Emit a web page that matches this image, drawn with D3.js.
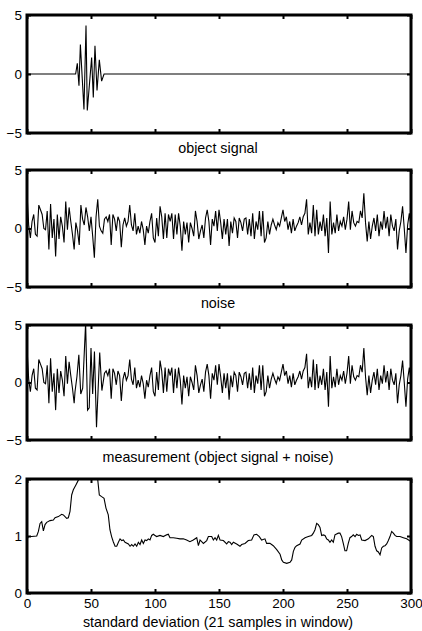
<!DOCTYPE html>
<html>
<head>
<meta charset="utf-8">
<script src="https://cdn.jsdelivr.net/npm/d3@7"></script>
<style>
  body { margin: 0; background: #fff; }
  svg { display: block; }
  text { font-family: "Liberation Sans", Arial, Helvetica, sans-serif; }
</style>
</head>
<body>
<svg id="chart" width="422" height="631"></svg>
<script>
// object signal: breakpoints of the short wavelet (sample index, value)
var signalX = [0, 38, 39.3, 40.6, 41.7, 44.5, 46.1, 47.1, 50.5, 51.8, 53.1, 54.7, 56.5, 58.3, 60.2, 300];
var signalY = [0, 0, 0.9, -1.0, 2.5, -3.0, 4.1, -3.1, 1.4, -2.0, 2.4, -1.4, 1.2, -0.6, 0, 0];

// noise, read left to right, evenly spread over samples 0..300
var noise = [3.0, 0.3, -0.8, 0.6, 1.2, -0.5, -0.65, 2.0, 1.6, 1.2, 0, -0.1, 1.5, -1.8, 2.1, -0.8, 0.8, -2.4, 1.2, -0.9,
  1.0, 0.2, -1.2, 2.3, -0.1, 1.8, 0.6, -0.5, -1.8, 0.5, -0.2, -1.4, 2.0, 0.8, 0.3, 1.8, 1.0, -0.2, 1.0, -0.65,
  -2.5, 1.0, 2.5, 0.2, -0.2, -0.4, 0.8, 1.0, 0.6, 1.2, -1.4, 1.2, 0.8, -0.2, 1.0, 0.6, -1.6, 0.3, 0.9, 0.2,
  0.6, 2.0, 0.3, -0.2, 1.3, -0.5, 0.2, -0.4, 0.6, -0.1, -1.4, 0.2, -0.4, 0.6, 1.3, -0.8, -1.2, 0.9, -0.65, 1.9,
  1.0, -0.9, 1.3, -0.8, 1.2, 0.6, 1.3, -0.9, 1.2, -0.5, 1.3, 0.2, -1.9, 0.6, -0.5, 0.5, -1.2, 0.5, 0, -0.65,
  1.5, 0.6, -0.9, -0.2, 0.3, -0.8, 0.9, 1.6, 0.6, -1.4, 0.8, 0.2, 1.5, -0.2, 1.6, 0.5, -0.9, 0.8, -0.5, 0.8,
  -1.5, 0.6, -0.4, 0.9, 0.6, -0.8, 0.9, 0.5, -0.2, 0.8, 0.9, -0.5, 0.8, -0.65, 1.3, -0.9, 0.6, -0.1, 1.5, -0.65,
  1.5, -1.2, -0.8, 0.6, -0.5, 0.3, 0.8, 0.3, -0.1, 0.5, 0.2, 0.9, 1.6, 0.6, 1.0, -0.1, 0.6, -0.4, 0.8, -0.2,
  0.2, 0.5, 1.0, 0.3, 1.0, 1.3, 2.5, -0.5, 0.5, -0.4, 2.0, -0.65, 1.6, -0.5, 0.6, -0.2, 1.2, -0.65, 0.9, -2.1,
  2.3, -0.5, 0.5, -0.4, 1.2, -0.2, 0.6, 0.2, 1.0, -0.1, 0.8, 2.3, -0.1, 1.5, 0.5, 0.2, 0.6, 0.5, 1.5, 0.9,
  3.0, 0.5, -1.1, 0.6, -0.9, 0.2, 0.9, -0.2, 1.2, -0.65, 0.6, -0.1, 1.5, 0, 1.0, -0.65, 1.2, 0.2, -0.2, 0.8,
  -1.8, -0.2, 0.6, 1.9, 0, -2.1, 0.3, 1.3, 0.2];

// measurement differs from the noise only where the wavelet sits
var burstX = [37.5, 39, 40.5, 42, 43.5, 45.8, 47.3, 48.6, 50, 51.3, 52.7, 54.3, 56.8, 58.5, 60];
var burstY = [-0.8, 0.5, 2.4, -1.0, -0.5, 5.2, -2.4, -2.2, 3.0, -1.0, 2.7, -3.9, 2.6, -0.7, 0.4];

// moving standard deviation (sample index, value)
var stdX = [0, 1, 3.6, 7.6, 8.9, 10.2, 11.5, 12.8, 14.1, 15.4, 18, 20.6, 21.9, 24.5, 27.1, 28.4, 31, 32.3, 33.6, 34.9,
  36.2, 38.3, 40.1, 41.4, 42.7, 45.3, 47.9, 50.5, 53.1, 55.2, 56.5, 58.3, 60.2, 61.7, 63.5, 64.8, 66.1, 67.4, 68.8, 70.1,
  71.4, 72.7, 74, 75.3, 76.6, 79.2, 80.5, 81.8, 83.1, 84.4, 85.7, 87, 88.3, 89.6, 90.9, 92.2, 93.5, 94.8, 96.1, 97.4,
  98.7, 100, 101.3, 103.9, 106.5, 109.1, 110.4, 111.7, 114.3, 116.9, 119.5, 122.1, 124.7, 127.3, 129.9, 132.6, 133.9, 135.2, 137.8, 140.4,
  141.7, 144.3, 145.6, 146.9, 148.2, 149.5, 150.8, 153.4, 156, 157.3, 158.6, 159.9, 161.2, 163.8, 166.4, 167.7, 170.3, 172.9, 175.5, 177.3,
  179.4, 181.5, 183.3, 185.9, 187.2, 189.8, 192.4, 195.1, 197.7, 199, 200.3, 202.9, 205.5, 206.8, 208.1, 209.4, 210.7, 213.3, 214.6, 217.2,
  219.8, 222.4, 223.7, 225, 226.3, 227.6, 228.9, 230.2, 231.5, 232.8, 234.1, 235.4, 236.7, 238, 239.3, 240.6, 243.2, 244.5, 245.8, 247.1,
  248.4, 249.7, 251, 252.3, 253.6, 254.9, 256.3, 257.6, 258.9, 260.2, 261.5, 264.1, 266.7, 269.3, 270.6, 271.9, 273.2, 274.5, 275.8, 277.1,
  278.4, 279.7, 281, 282.3, 283.6, 284.9, 286.2, 287.5, 288.8, 291.4, 294, 296.6, 298.7, 300];
var stdY = [0.93, 0.99, 0.99, 1.0, 1.08, 1.22, 1.25, 1.09, 1.2, 1.24, 1.27, 1.28, 1.32, 1.34, 1.38, 1.37, 1.31, 1.32, 1.43, 1.72,
  1.81, 1.9, 1.98, 2.02, 2.08, 2.15, 2.2, 2.18, 2.1, 2.0, 1.72, 1.69, 1.66, 1.49, 1.37, 1.11, 0.99, 0.9, 0.82, 0.82,
  0.89, 0.95, 0.92, 0.93, 0.89, 0.86, 0.82, 0.85, 0.82, 0.86, 0.82, 0.89, 0.85, 0.93, 0.87, 0.93, 0.92, 0.95, 0.93, 1.01,
  1.03, 1.01, 0.99, 1.01, 0.99, 1.02, 1.03, 0.97, 0.97, 0.96, 0.95, 0.95, 0.93, 0.9, 0.93, 0.97, 0.83, 0.93, 0.87, 0.92,
  0.99, 0.99, 0.93, 0.97, 0.93, 1.01, 0.93, 0.92, 0.86, 0.9, 0.89, 0.85, 0.89, 0.86, 0.82, 0.85, 0.87, 0.92, 0.93, 1.02,
  1.03, 0.99, 0.93, 0.95, 0.87, 0.87, 0.83, 0.76, 0.68, 0.58, 0.54, 0.52, 0.54, 0.58, 0.73, 0.8, 0.83, 0.86, 0.93, 0.97,
  0.99, 1.01, 1.05, 1.11, 1.22, 1.2, 1.15, 1.01, 1.02, 1.01, 0.95, 0.93, 0.89, 0.93, 0.89, 1.02, 1.05, 1.05, 0.99, 0.87,
  0.74, 0.74, 0.87, 0.97, 0.99, 1.02, 0.99, 1.03, 1.01, 1.02, 0.93, 0.92, 0.95, 1.01, 0.99, 0.82, 0.74, 0.72, 0.67, 0.79,
  0.82, 0.83, 0.86, 0.92, 0.99, 1.08, 1.05, 1.01, 0.99, 0.99, 0.97, 0.95, 0.92, 0.9];

var xTicks = [0, 50, 100, 150, 200, 250, 300];
var titles = ["object signal", "noise", "measurement (object signal + noise)", "standard deviation (21 samples in window)"];

// build point lists
var idx = d3.scaleLinear().domain([0, noise.length - 1]).range([0, 300]);
var signalPts = signalX.map(function(x, i) { return [x, signalY[i]]; });
var noisePts = noise.map(function(v, i) { return [idx(i), v]; });
var measPts = noisePts.filter(function(p) { return p[0] < 37 || p[0] > 60.5; })
  .concat(burstX.map(function(x, i) { return [x, burstY[i]]; }))
  .sort(function(a, b) { return a[0] - b[0]; });
var stdPts = stdX.map(function(x, i) { return [x, stdY[i]]; });

var panels = [
  { top: 15,  bottom: 133, domain: [-5, 5], ticks: [-5, 0, 5], pts: signalPts, labelY: 153 },
  { top: 170, bottom: 287, domain: [-5, 5], ticks: [-5, 0, 5], pts: noisePts, labelY: 308 },
  { top: 325, bottom: 440, domain: [-5, 5], ticks: [-5, 0, 5], pts: measPts, labelY: 462 },
  { top: 479, bottom: 593, domain: [0, 2],  ticks: [0, 1, 2],  pts: stdPts, labelY: 627, xLabels: true }
];

var left = 27, right = 411;
var svg = d3.select('#chart');
var xScale = d3.scaleLinear().domain([0, 300]).range([left, right]);

panels.forEach(function(p, k) {
  var yScale = d3.scaleLinear().domain(p.domain).range([p.bottom, p.top]);
  var g = svg.append('g');

  g.append('clipPath').attr('id', 'clip' + k)
    .append('rect')
    .attr('x', left).attr('y', p.top)
    .attr('width', right - left).attr('height', p.bottom - p.top);

  // data line
  var line = d3.line()
    .x(function(d) { return xScale(d[0]); })
    .y(function(d) { return yScale(d[1]); });
  g.append('path')
    .attr('d', line(p.pts))
    .attr('clip-path', 'url(#clip' + k + ')')
    .attr('fill', 'none')
    .attr('stroke', '#000')
    .attr('stroke-width', 1.1);

  // axes, ticks pointing inward (matlab style)
  var fmt = function(d) { return d < 0 ? '\u2212' + Math.abs(d) : d; };
  var bottomAxis = d3.axisBottom(xScale).tickValues(xTicks).tickSize(-4).tickPadding(5)
    .tickFormat(p.xLabels ? fmt : '');
  var topAxis = d3.axisTop(xScale).tickValues(xTicks).tickSize(-4).tickFormat('');
  var leftAxis = d3.axisLeft(yScale).tickValues(p.ticks).tickSize(-4).tickPadding(5).tickFormat(fmt);
  var rightAxis = d3.axisRight(yScale).tickValues(p.ticks).tickSize(-4).tickFormat('');

  [[bottomAxis, 'translate(0,' + p.bottom + ')'], [topAxis, 'translate(0,' + p.top + ')'],
   [leftAxis, 'translate(' + left + ',0)'], [rightAxis, 'translate(' + right + ',0)']].forEach(function(a) {
    var ax = g.append('g').attr('transform', a[1]).call(a[0]);
    ax.select('.domain').remove();
    ax.selectAll('line').attr('stroke', '#000').attr('stroke-width', 2);
    ax.selectAll('text').attr('fill', '#000').style('font-size', '13.5px')
      .style('font-family', '"Liberation Sans", Arial, sans-serif');
  });

  // heavy box
  g.append('rect')
    .attr('x', left).attr('y', p.top)
    .attr('width', right - left).attr('height', p.bottom - p.top)
    .attr('fill', 'none')
    .attr('stroke', '#000')
    .attr('stroke-width', 3);

  g.append('text')
    .attr('x', (left + right) / 2 - 1)
    .attr('y', p.labelY)
    .attr('text-anchor', 'middle')
    .style('font-size', '14.3px')
    .text(titles[k]);
});
</script>
</body>
</html>
